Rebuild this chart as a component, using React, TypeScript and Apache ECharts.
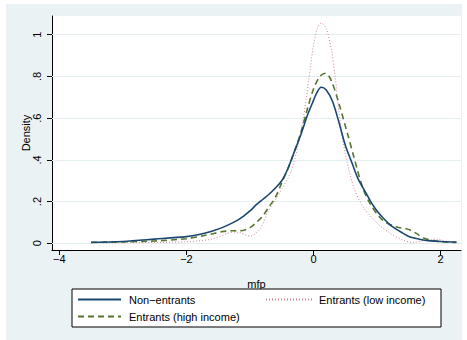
import { useEffect, useRef } from "react";
import * as echarts from "echarts";

const nonEntrantsX = [-3.5, -3.0, -2.5, -2.0, -1.8, -1.6, -1.4, -1.2, -1.1, -1.0, -0.9, -0.8, -0.7, -0.6, -0.5, -0.4, -0.3, -0.2, -0.1, 0.0, 0.05, 0.12, 0.2, 0.3, 0.4, 0.5, 0.6, 0.7, 0.8, 0.9, 1.0, 1.1, 1.2, 1.3, 1.4, 1.5, 1.6, 1.7, 1.8, 2.0, 2.25];
const nonEntrantsY = [0.005, 0.009, 0.02, 0.032, 0.042, 0.058, 0.08, 0.11, 0.13, 0.155, 0.185, 0.21, 0.235, 0.265, 0.3, 0.36, 0.44, 0.52, 0.61, 0.685, 0.72, 0.748, 0.735, 0.68, 0.58, 0.47, 0.39, 0.31, 0.255, 0.2, 0.155, 0.12, 0.09, 0.068, 0.05, 0.033, 0.024, 0.017, 0.013, 0.009, 0.006];

const lowIncomeX = [-3.5, -3.0, -2.5, -2.0, -1.8, -1.6, -1.45, -1.35, -1.25, -1.15, -1.05, -0.98, -0.9, -0.82, -0.72, -0.6, -0.5, -0.36, -0.25, -0.16, -0.08, 0.0, 0.06, 0.12, 0.2, 0.28, 0.34, 0.4, 0.45, 0.5, 0.63, 0.78, 1.0, 1.2, 1.4, 1.57, 1.78, 1.95, 2.1, 2.25];
const lowIncomeY = [0.002, 0.003, 0.004, 0.007, 0.012, 0.02, 0.035, 0.048, 0.054, 0.05, 0.038, 0.035, 0.05, 0.078, 0.15, 0.21, 0.26, 0.34, 0.46, 0.6, 0.77, 0.95, 1.03, 1.056, 1.03, 0.93, 0.8, 0.63, 0.52, 0.43, 0.27, 0.175, 0.097, 0.05, 0.016, 0.004, 0.016, 0.018, 0.01, 0.005];

const highIncomeX = [-3.5, -3.0, -2.5, -2.0, -1.75, -1.6, -1.45, -1.3, -1.15, -1.0, -0.9, -0.8, -0.7, -0.6, -0.5, -0.4, -0.3, -0.2, -0.1, 0.0, 0.1, 0.19, 0.28, 0.4, 0.54, 0.63, 0.77, 0.89, 1.09, 1.31, 1.45, 1.52, 1.63, 1.73, 1.9, 2.1, 2.25];
const highIncomeY = [0.004, 0.007, 0.011, 0.022, 0.035, 0.045, 0.055, 0.06, 0.06, 0.075, 0.1, 0.13, 0.175, 0.22, 0.29, 0.36, 0.44, 0.53, 0.64, 0.74, 0.8, 0.815, 0.78, 0.67, 0.52, 0.42, 0.27, 0.19, 0.11, 0.078, 0.07, 0.064, 0.045, 0.025, 0.012, 0.006, 0.004];

const xTicks = [-4, -2, 0, 2];
const yTicks = [0, 0.2, 0.4, 0.6, 0.8, 1];
const seriesNames = ["Non\u2212entrants", "Entrants (low income)", "Entrants (high income)"];

const zip = (xs: number[], ys: number[]) => xs.map((x, i) => [x, ys[i]]);
const fmtX = (v: number) => (v < 0 ? "\u2212" + Math.abs(v) : String(v));
const fmtY = (v: number) => {
  const r = Math.round(v * 10) / 10;
  if (r === 0) return "0";
  if (r === 1) return "1";
  return String(r).replace(/^0/, "");
};

const FONT = "Liberation Sans, Arial, sans-serif";

export default function App() {
  const ref = useRef<HTMLDivElement>(null);
  useEffect(() => {
    document.body.style.margin = "0";
    const chart = echarts.init(ref.current!, null, { renderer: "svg" });
    chart.setOption({
      animation: false,
      backgroundColor: "#ffffff",
      textStyle: { fontFamily: FONT },
      graphic: [
        { type: "rect", z: -100, shape: { x: 6, y: 4, width: 456, height: 336 }, style: { fill: "#eaf2f3" } },
        { type: "rect", z: 1, shape: { x: 72, y: 289, width: 369, height: 38 }, style: { fill: "#ffffff", stroke: "#000000", lineWidth: 1 } },
      ],
      grid: {
        left: 52,
        top: 16,
        width: 409,
        height: 234,
        show: true,
        backgroundColor: "#ffffff",
        borderWidth: 0,
      },
      xAxis: {
        type: "value",
        min: -4.115,
        max: 2.321,
        name: "mfp",
        nameLocation: "middle",
        nameGap: 28,
        nameTextStyle: { fontSize: 11, color: "#000", fontFamily: FONT },
        axisLine: { show: true, onZero: false, lineStyle: { color: "#000", width: 1 } },
        axisTick: { show: true, length: 5, customValues: xTicks, lineStyle: { color: "#000" } },
        axisLabel: { customValues: xTicks, formatter: fmtX, margin: 3, fontSize: 11, color: "#000", fontFamily: FONT },
        splitLine: { show: false },
      },
      yAxis: {
        type: "value",
        min: -0.0321,
        max: 1.0896,
        name: "Density",
        nameLocation: "middle",
        nameGap: 21,
        nameMoveOverlap: false,
        nameRotate: 90,
        nameTextStyle: { fontSize: 11, color: "#000", fontFamily: FONT },
        axisLine: { show: true, onZero: false, lineStyle: { color: "#000", width: 1 } },
        axisTick: { show: true, length: 5, customValues: yTicks, lineStyle: { color: "#000" } },
        axisLabel: { customValues: yTicks, formatter: fmtY, rotate: 90, margin: 10, fontSize: 11, color: "#000", fontFamily: FONT },
        splitLine: { show: false },
      },
      legend: [
        {
          data: [seriesNames[0], seriesNames[2]],
          orient: "vertical",
          left: 77,
          top: 294,
          padding: 0,
          itemWidth: 43,
          itemHeight: 11,
          itemGap: 6,
          z: 5,
          itemStyle: { opacity: 0 },
          textStyle: { fontSize: 11, color: "#000", fontFamily: FONT, padding: [0, 0, 0, 3] },
        },
        {
          data: [seriesNames[1]],
          orient: "vertical",
          left: 265,
          top: 294,
          padding: 0,
          itemWidth: 46,
          itemHeight: 11,
          z: 5,
          itemStyle: { opacity: 0 },
          textStyle: { fontSize: 11, color: "#000", fontFamily: FONT, padding: [0, 0, 0, 2] },
        },
      ],
      series: [
        {
          name: seriesNames[0],
          type: "line",
          data: zip(nonEntrantsX, nonEntrantsY),
          symbol: "none",
          smooth: 0.3,
          z: 4,
          color: "#1a476f",
          lineStyle: { color: "#1a476f", width: 1.6, type: "solid" },
          markLine: {
            silent: true,
            symbol: ["none", "none"],
            label: { show: false },
            z: 1,
            lineStyle: { color: "#e4eef0", width: 1, type: "solid" },
            data: yTicks.map((v) => ({ yAxis: v })),
          },
        },
        {
          name: seriesNames[1],
          type: "line",
          data: zip(lowIncomeX, lowIncomeY),
          symbol: "none",
          smooth: 0.3,
          z: 3,
          color: "#c98690",
          lineStyle: { color: "#c98690", width: 1, type: [1, 2] },
        },
        {
          name: seriesNames[2],
          type: "line",
          data: zip(highIncomeX, highIncomeY),
          symbol: "none",
          smooth: 0.3,
          z: 3,
          color: "#55752f",
          lineStyle: { color: "#55752f", width: 1.6, type: [6, 4] },
        },
      ],
    });
    return () => chart.dispose();
  }, []);
  return <div ref={ref} style={{ width: 467, height: 340 }} />;
}
